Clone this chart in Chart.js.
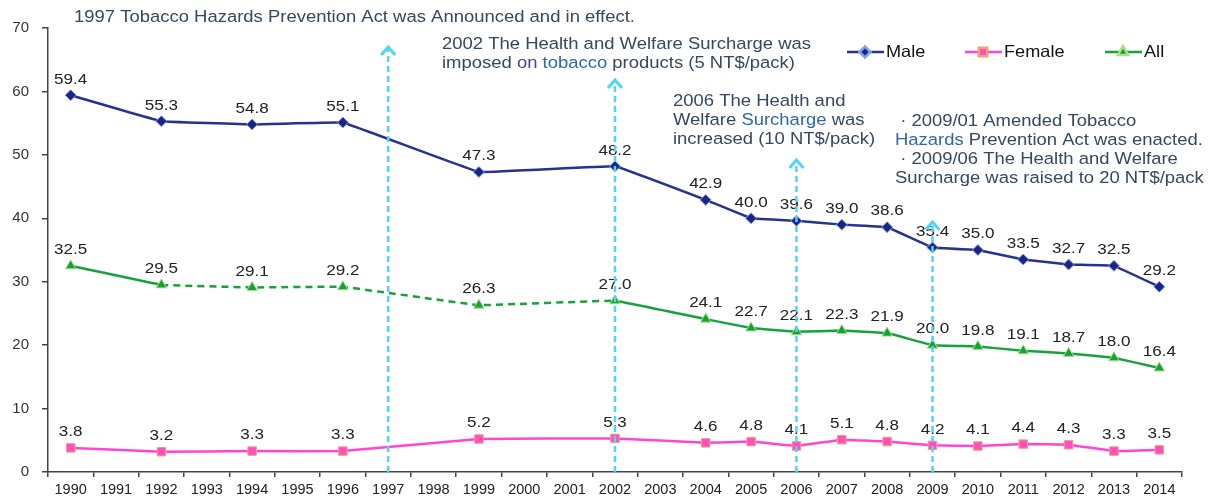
<!DOCTYPE html>
<html>
<head>
<meta charset="utf-8">
<script src="https://cdn.jsdelivr.net/npm/chart.js@4"></script>
<style>
  html, body { margin: 0; padding: 0; background: #fff; }
  #wrap { width: 1213px; height: 502px; }
</style>
</head>
<body>
<div id="wrap"><canvas id="smokingChart" width="1213" height="502"></canvas></div>
<script>
// Smoking prevalence (%) by year, Taiwan
const years = ['1990', '1991', '1992', '1993', '1994', '1995', '1996', '1997', '1998', '1999', '2000', '2001',
    '2002', '2003', '2004', '2005', '2006', '2007', '2008', '2009', '2010', '2011', '2012', '2013', '2014'];

const maleRate = [59.4, null, 55.3, null, 54.8, null, 55.1, null, null, 47.3, null, null,
    48.2, null, 42.9, 40.0, 39.6, 39.0, 38.6, 35.4, 35.0, 33.5, 32.7, 32.5, 29.2];
const femaleRate = [3.8, null, 3.2, null, 3.3, null, 3.3, null, null, 5.2, null, null,
    5.3, null, 4.6, 4.8, 4.1, 5.1, 4.8, 4.2, 4.1, 4.4, 4.3, 3.3, 3.5];
const allRate = [32.5, null, 29.5, null, 29.1, null, 29.2, null, null, 26.3, null, null,
    27.0, null, 24.1, 22.7, 22.1, 22.3, 21.9, 20.0, 19.8, 19.1, 18.7, 18.0, 16.4];

// dashed part of the "All" line (1992 -> 2002)
const dashFrom = '1992';
const dashTo = '2002';

// policy events: arrow year and how high the arrow reaches (axis units)
const policyYears = ['1997', '2002', '2006', '2009'];
const arrowTops = [67.0, 61.8, 49.2, 39.4];

const yTicks = [0, 10, 20, 30, 40, 50, 60, 70];

const FONT = '"Liberation Sans", Arial, sans-serif';
const STRETCH = 1.1;
const NOTE = '#34485f';
const NOTE_HI = '#2f68a8';

function stretchText(ctx, text, x, y, align, font, color) {
    ctx.save();
    ctx.font = font;
    ctx.fillStyle = color;
    ctx.textAlign = align;
    ctx.textBaseline = 'middle';
    ctx.translate(x, y);
    ctx.scale(STRETCH, 1);
    ctx.fillText(text, 0, 0);
    ctx.restore();
}

// draw a line made of coloured pieces, left aligned
function richLine(ctx, parts, x, y, font) {
    ctx.save();
    ctx.font = font;
    ctx.textBaseline = 'middle';
    ctx.textAlign = 'left';
    ctx.translate(x, y);
    ctx.scale(STRETCH, 1);
    let cx = 0;
    parts.forEach(p => {
        ctx.fillStyle = p[1] || NOTE;
        ctx.fillText(p[0], cx, 0);
        cx += ctx.measureText(p[0]).width;
    });
    ctx.restore();
}

const notes = [
    { x: 74, y: 17, lines: [[['1997 Tobacco Hazards Prevention Act was Announced and in effect.']]] },
    { x: 442, y: 44, lines: [
        [['2002 The Health and Welfare Surcharge was']],
        [['imposed '], ['on', '#4a3f9c'], [' '], ['tobacco', NOTE_HI], [' products (5 NT$/pack)']]
    ] },
    { x: 673, y: 101, lines: [
        [['2006 The Health and']],
        [['Welfare '], ['Surcharge', NOTE_HI], [' was']],
        [['increased (10 NT$/pack)']]
    ] },
    { x: 895, y: 121, lines: [
        [[' \u00b7 2009/01 Amended Tobacco']],
        [['Hazards', NOTE_HI], [' Prevention Act was enacted.']],
        [[' \u00b7 2009/06 The Health and Welfare']],
        [['Surcharge was raised to 20 NT$/pack']]
    ] }
];

const pointLabels = {
    id: 'pointLabels',
    afterDatasetsDraw(chart) {
        const ctx = chart.ctx;
        chart.data.datasets.forEach((ds, i) => {
            const meta = chart.getDatasetMeta(i);
            meta.data.forEach((pt, j) => {
                const v = ds.data[j];
                if (v == null) return;
                stretchText(ctx, v.toFixed(1), pt.x, pt.y - 16, 'center', '15.5px ' + FONT, '#222');
            });
        });

        // policy arrows
        const xs = chart.scales.x, ys = chart.scales.y;
        const bottom = chart.chartArea.bottom;
        ctx.save();
        ctx.strokeStyle = '#52d4f6';
        ctx.lineWidth = 2.5;
        policyYears.forEach((yr, k) => {
            const x = xs.getPixelForValue(years.indexOf(yr));
            const top = ys.getPixelForValue(arrowTops[k]);
            ctx.setLineDash([6, 4]);
            ctx.beginPath();
            ctx.moveTo(x, bottom);
            ctx.lineTo(x, top + 1);
            ctx.stroke();
            ctx.setLineDash([]);
            ctx.lineWidth = 3;
            ctx.beginPath();
            ctx.moveTo(x - 7, top + 8);
            ctx.lineTo(x, top);
            ctx.lineTo(x + 7, top + 8);
            ctx.stroke();
            ctx.lineWidth = 2.5;
        });
        ctx.restore();
    },
    afterDraw(chart) {
        const ctx = chart.ctx;
        notes.forEach(n => {
            n.lines.forEach((parts, li) => {
                richLine(ctx, parts, n.x, n.y + li * 19, '16.8px ' + FONT);
            });
        });

        // legend
        const items = [
            { x: 847, ds: chart.data.datasets[0] },
            { x: 965, ds: chart.data.datasets[1] },
            { x: 1105, ds: chart.data.datasets[2] }
        ];
        const ly = 52;
        items.forEach(it => {
            ctx.save();
            ctx.strokeStyle = it.ds.borderColor;
            ctx.lineWidth = 2.5;
            ctx.beginPath();
            ctx.moveTo(it.x, ly);
            ctx.lineTo(it.x + 37, ly);
            ctx.stroke();
            ctx.fillStyle = it.ds.pointBackgroundColor;
            ctx.strokeStyle = it.ds.pointBorderColor;
            Chart.helpers.drawPoint(ctx, {
                pointStyle: it.ds.pointStyle,
                radius: it.ds.pointRadius,
                rotation: 0,
                borderWidth: 1
            }, it.x + 18, ly);
            ctx.restore();
            stretchText(ctx, it.ds.label, it.x + 39, ly, 'left', '16.5px ' + FONT, '#111');
        });
    }
};

const ctx = document.getElementById('smokingChart').getContext('2d');
const smokingChart = new Chart(ctx, {
    type: 'line',
    data: {
        labels: years,
        datasets: [{
            label: 'Male',
            data: maleRate,
            borderColor: '#27318f',
            borderWidth: 2.5,
            pointStyle: 'rectRot',
            pointRadius: 5.5,
            pointBackgroundColor: '#1c2585',
            pointBorderColor: '#7fa6e6',
            pointBorderWidth: 1,
            tension: 0.04,
            spanGaps: true
        }, {
            label: 'Female',
            data: femaleRate,
            borderColor: '#ff45d2',
            borderWidth: 2.5,
            pointStyle: 'rect',
            pointRadius: 6,
            pointBackgroundColor: '#ff4fbf',
            pointBorderColor: '#f2a07a',
            pointBorderWidth: 1,
            tension: 0.04,
            spanGaps: true
        }, {
            label: 'All',
            data: allRate,
            borderColor: '#17a23e',
            borderWidth: 2.5,
            pointStyle: 'triangle',
            pointRadius: 6,
            pointBackgroundColor: '#16a035',
            pointBorderColor: '#a8e08a',
            pointBorderWidth: 1,
            tension: 0.04,
            spanGaps: true,
            segment: {
                borderDash: c => (c.p0DataIndex >= years.indexOf(dashFrom) && c.p1DataIndex <= years.indexOf(dashTo)) ? [7, 5] : undefined
            }
        }]
    },
    options: {
        responsive: false,
        devicePixelRatio: 1,
        animation: false,
        layout: { padding: { top: 28, right: 31, left: 0, bottom: 0 } },
        plugins: {
            legend: { display: false },
            tooltip: { enabled: false }
        },
        scales: {
            x: {
                offset: true,
                grid: { offset: true, drawOnChartArea: false, drawTicks: true, tickLength: 5, color: '#444', lineWidth: 1.5 },
                border: { color: '#444', width: 1.5 },
                ticks: {
                    autoSkip: false, maxRotation: 0, minRotation: 0, padding: 4,
                    color: '#222', font: { family: FONT, size: 14.5 }
                },
                afterFit: s => { s.height = 30; }
            },
            y: {
                min: 0,
                max: 70,
                afterBuildTicks: s => { s.ticks = yTicks.map(v => ({ value: v })); },
                grid: { drawOnChartArea: false, drawTicks: true, tickLength: 6, color: '#444', lineWidth: 1.5 },
                border: { color: '#444', width: 1.5 },
                ticks: { padding: 13, color: '#333', font: { family: FONT, size: 15 } },
                afterFit: s => { s.width = 48; }
            }
        }
    },
    plugins: [pointLabels]
});
</script>
</body>
</html>
